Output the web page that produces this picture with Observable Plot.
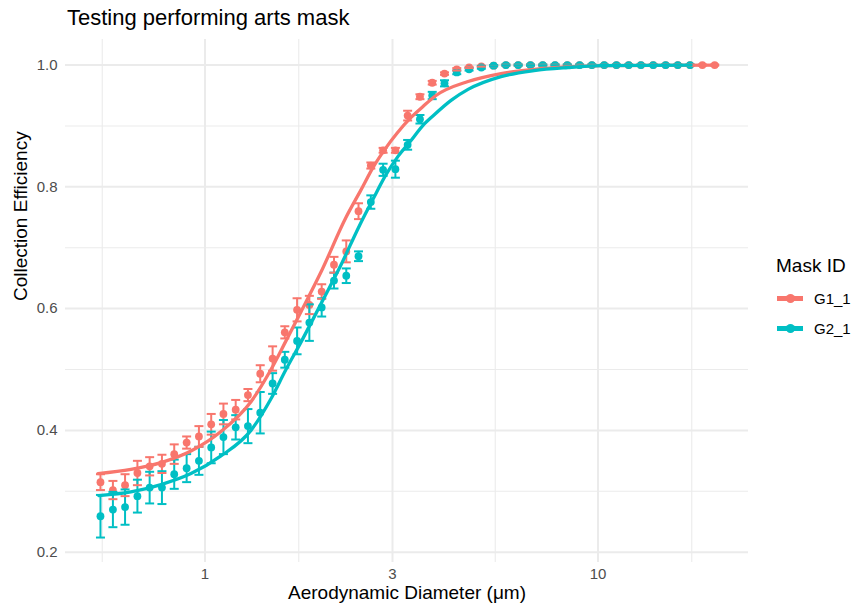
<!DOCTYPE html>
<html>
<head>
<meta charset="utf-8">
<script src="https://cdn.jsdelivr.net/npm/d3@7"></script>
<script src="https://cdn.jsdelivr.net/npm/@observablehq/plot@0.6"></script>
<style>
  body { margin: 0; background: #fff; font-family: "Liberation Sans", Arial, sans-serif; }
  #wrap { position: relative; width: 867px; height: 607px; overflow: hidden; background: #fff; }
  #title { position: absolute; left: 67px; top: 7px; font-size: 22px; line-height: 22px; color: #000; white-space: nowrap; }
  #chart { position: absolute; left: 0; top: 30px; }
  .lg { position: absolute; white-space: nowrap; color: #000; }
  .lgtitle { left: 776px; top: 256px; font-size: 19px; line-height: 19px; }
  .lgline { position: absolute; left: 777px; width: 26px; height: 4.5px; }
  .lgdot { position: absolute; left: 785.5px; width: 9px; height: 9px; border-radius: 50%; }
  .lglabel { left: 814px; font-size: 15px; line-height: 15px; }
</style>
</head>
<body>
<div id="wrap">
  <div id="title">Testing performing arts mask</div>
  <div id="chart"></div>
  <div id="legend"></div>
</div>
<script>
// ---- data ----
const maskIds = ["G1_1", "G2_1"];
const maskColors = ["#F8766D", "#00BFC4"];

// APS channel midpoints (µm)
const diameters = [0.542, 0.583, 0.626, 0.673, 0.723, 0.777, 0.835, 0.898, 0.965, 1.037,
  1.114, 1.197, 1.286, 1.382, 1.486, 1.596, 1.715, 1.843, 1.981, 2.129,
  2.288, 2.458, 2.642, 2.839, 3.051, 3.278, 3.523, 3.786, 4.068, 4.371,
  4.698, 5.048, 5.425, 5.829, 6.264, 6.732, 7.234, 7.774, 8.354, 8.977,
  9.647, 10.37, 11.14, 11.97, 12.86, 13.82, 14.86, 15.96, 17.15, 18.43, 19.81];

const g1Eff = [0.315, 0.302, 0.310, 0.330, 0.341, 0.345, 0.361, 0.380, 0.390, 0.410,
  0.427, 0.434, 0.458, 0.493, 0.518, 0.561, 0.598, 0.606, 0.628, 0.672,
  0.694, 0.760, 0.835, 0.860, 0.860, 0.917, 0.948, 0.971, 0.986, 0.993,
  0.996, 0.998, 0.999, 1.000, 1.000, 1.000, 1.000, 1.000, 1.000, 1.000,
  1.000, 1.000, 1.000, 1.000, 1.000, 1.000, 1.000, 1.000, 1.000, 1.000, 1.000];
const g1Sd = [0.013, 0.015, 0.018, 0.020, 0.015, 0.015, 0.016, 0.010, 0.017, 0.017,
  0.017, 0.016, 0.010, 0.014, 0.020, 0.010, 0.019, 0.015, 0.012, 0.013,
  0.018, 0.013, 0.005, 0.004, 0.004, 0.008, 0.004, 0.003, 0.002, 0.002,
  0.001, 0.001, 0.001, 0.001, 0.001, 0.001, 0.001, 0.001, 0.001, 0.001,
  0.001, 0.001, 0.001, 0.001, 0.001, 0.001, 0.001, 0.001, 0.001, 0.001, 0.001];

const g2Eff = [0.259, 0.270, 0.274, 0.292, 0.306, 0.306, 0.328, 0.338, 0.350, 0.372,
  0.389, 0.405, 0.407, 0.429, 0.477, 0.516, 0.547, 0.577, 0.602, 0.646,
  0.654, 0.686, 0.775, 0.828, 0.829, 0.869, 0.911, 0.950, 0.970, 0.988,
  0.993, 0.996, 0.999, 1.000, 1.000, 1.000, 1.000, 1.000, 1.000, 1.000,
  1.000, 1.000, 1.000, 1.000, 1.000, 1.000, 1.000, 1.000, 1.000];
const g2Sd = [0.035, 0.029, 0.029, 0.027, 0.026, 0.027, 0.024, 0.023, 0.023, 0.026,
  0.028, 0.020, 0.028, 0.034, 0.017, 0.013, 0.022, 0.030, 0.015, 0.013,
  0.012, 0.008, 0.011, 0.010, 0.014, 0.008, 0.007, 0.006, 0.005, 0.003,
  0.002, 0.002, 0.001, 0.001, 0.001, 0.001, 0.001, 0.001, 0.001, 0.001,
  0.001, 0.001, 0.001, 0.001, 0.001, 0.001, 0.001, 0.001, 0.001];

// fitted curves
const fitDiamG1 = [0.534, 0.648, 0.773, 0.921, 1.098, 1.309, 1.472, 1.607, 1.755, 1.973,
  2.285, 2.494, 2.677, 2.871, 3.080, 3.344, 3.587, 3.870, 4.670, 5.665, 6.873, 8.389, 10.18, 19.97];
const fitG1 = [0.329, 0.336, 0.347, 0.366, 0.398, 0.447, 0.500, 0.547, 0.595, 0.660,
  0.750, 0.795, 0.832, 0.862, 0.888, 0.914, 0.932, 0.950, 0.973, 0.986, 0.993, 0.997, 0.999, 1.000];
const fitDiamG2 = [0.537, 0.648, 0.773, 0.921, 1.098, 1.309, 1.472, 1.607, 1.755, 1.973,
  2.219, 2.466, 2.677, 2.888, 3.098, 3.324, 3.587, 3.825, 4.227, 4.670, 5.665, 6.873, 8.389, 10.18, 17.25];
const fitG2 = [0.293, 0.299, 0.311, 0.329, 0.358, 0.400, 0.452, 0.500, 0.545, 0.608,
  0.672, 0.735, 0.780, 0.820, 0.850, 0.874, 0.901, 0.918, 0.942, 0.960, 0.981, 0.991, 0.996, 0.999, 1.000];

const xTicks = [1, 3, 10];
const xMinorTicks = [0.5477, 1.732, 5.477, 17.32];
const yTicks = [0.2, 0.4, 0.6, 0.8, 1.0];
const yMinorTicks = [0.3, 0.5, 0.7, 0.9];

const xLabel = "Aerodynamic Diameter (μm)";
const yLabel = "Collection Efficiency";

// ---- tables ----
const points = [];
g1Eff.forEach((v, i) => points.push({mask: maskIds[0], d: diameters[i], eff: v, sd: g1Sd[i]}));
g2Eff.forEach((v, i) => points.push({mask: maskIds[1], d: diameters[i], eff: v, sd: g2Sd[i]}));
const fits = [];
fitG1.forEach((v, i) => fits.push({mask: maskIds[0], d: fitDiamG1[i], eff: v}));
fitG2.forEach((v, i) => fits.push({mask: maskIds[1], d: fitDiamG2[i], eff: v}));

const capSymbol = {
  draw(ctx, size) {
    const w = Math.sqrt(size / Math.PI);
    ctx.moveTo(-w, 0);
    ctx.lineTo(w, 0);
  }
};

const grid = "#EBEBEB";
const font = "'Liberation Sans', Arial, sans-serif";

const chart = Plot.plot({
  width: 867,
  height: 577,
  marginLeft: 65,
  marginRight: 119,
  marginTop: 9,
  marginBottom: 45,
  x: {type: "log", domain: [0.4416, 24.15]},
  y: {domain: [0.183, 1.042]},
  color: {domain: maskIds, range: maskColors},
  style: {fontFamily: font, background: "white", color: "#4D4D4D"},
  marks: [
    Plot.gridX(xMinorTicks, {stroke: grid, strokeOpacity: 1, strokeWidth: 1.1}),
    Plot.gridY(yMinorTicks, {stroke: grid, strokeOpacity: 1, strokeWidth: 1.1}),
    Plot.gridX(xTicks, {stroke: grid, strokeOpacity: 1, strokeWidth: 2}),
    Plot.gridY(yTicks, {stroke: grid, strokeOpacity: 1, strokeWidth: 2}),
    Plot.axisX(xTicks, {tickSize: 0, tickPadding: 6, fontSize: 15, fill: "#4D4D4D", tickFormat: d => String(d), label: null}),
    Plot.axisY(yTicks, {tickSize: 0, tickPadding: 8, fontSize: 15, fill: "#4D4D4D", tickFormat: d => d.toFixed(1), label: null}),
    Plot.dot(points, {x: "d", y: "eff", fill: "mask", r: 3.9}),
    Plot.ruleX(points, {x: "d", y1: p => p.eff - p.sd, y2: p => p.eff + p.sd, stroke: "mask", strokeWidth: 2}),
    Plot.dot(points, {x: "d", y: p => p.eff + p.sd, stroke: "mask", symbol: capSymbol, r: 4.5, strokeWidth: 2}),
    Plot.dot(points, {x: "d", y: p => p.eff - p.sd, stroke: "mask", symbol: capSymbol, r: 4.5, strokeWidth: 2}),
    Plot.line(fits, {x: "d", y: "eff", stroke: "mask", z: "mask", strokeWidth: 3.3, curve: "monotone-x"}),
    Plot.text([yLabel], {frameAnchor: "left", dx: -45, rotate: -90, fontSize: 19, fill: "black", text: d => d}),
    Plot.text([xLabel], {frameAnchor: "bottom", dy: 36, fontSize: 19, fill: "black", text: d => d})
  ]
});
document.getElementById("chart").appendChild(chart);

// ---- legend ----
const legend = document.getElementById("legend");
const t = document.createElement("div");
t.className = "lg lgtitle";
t.textContent = "Mask ID";
legend.appendChild(t);
const rowY = [298.3, 328.3];
maskIds.forEach((id, i) => {
  const line = document.createElement("div");
  line.className = "lgline";
  line.style.top = (rowY[i] - 2.25) + "px";
  line.style.background = maskColors[i];
  legend.appendChild(line);
  const dot = document.createElement("div");
  dot.className = "lgdot";
  dot.style.top = (rowY[i] - 4.5) + "px";
  dot.style.background = maskColors[i];
  legend.appendChild(dot);
  const lab = document.createElement("div");
  lab.className = "lg lglabel";
  lab.style.top = (rowY[i] - 7.5) + "px";
  lab.textContent = id;
  legend.appendChild(lab);
});
</script>
</body>
</html>
